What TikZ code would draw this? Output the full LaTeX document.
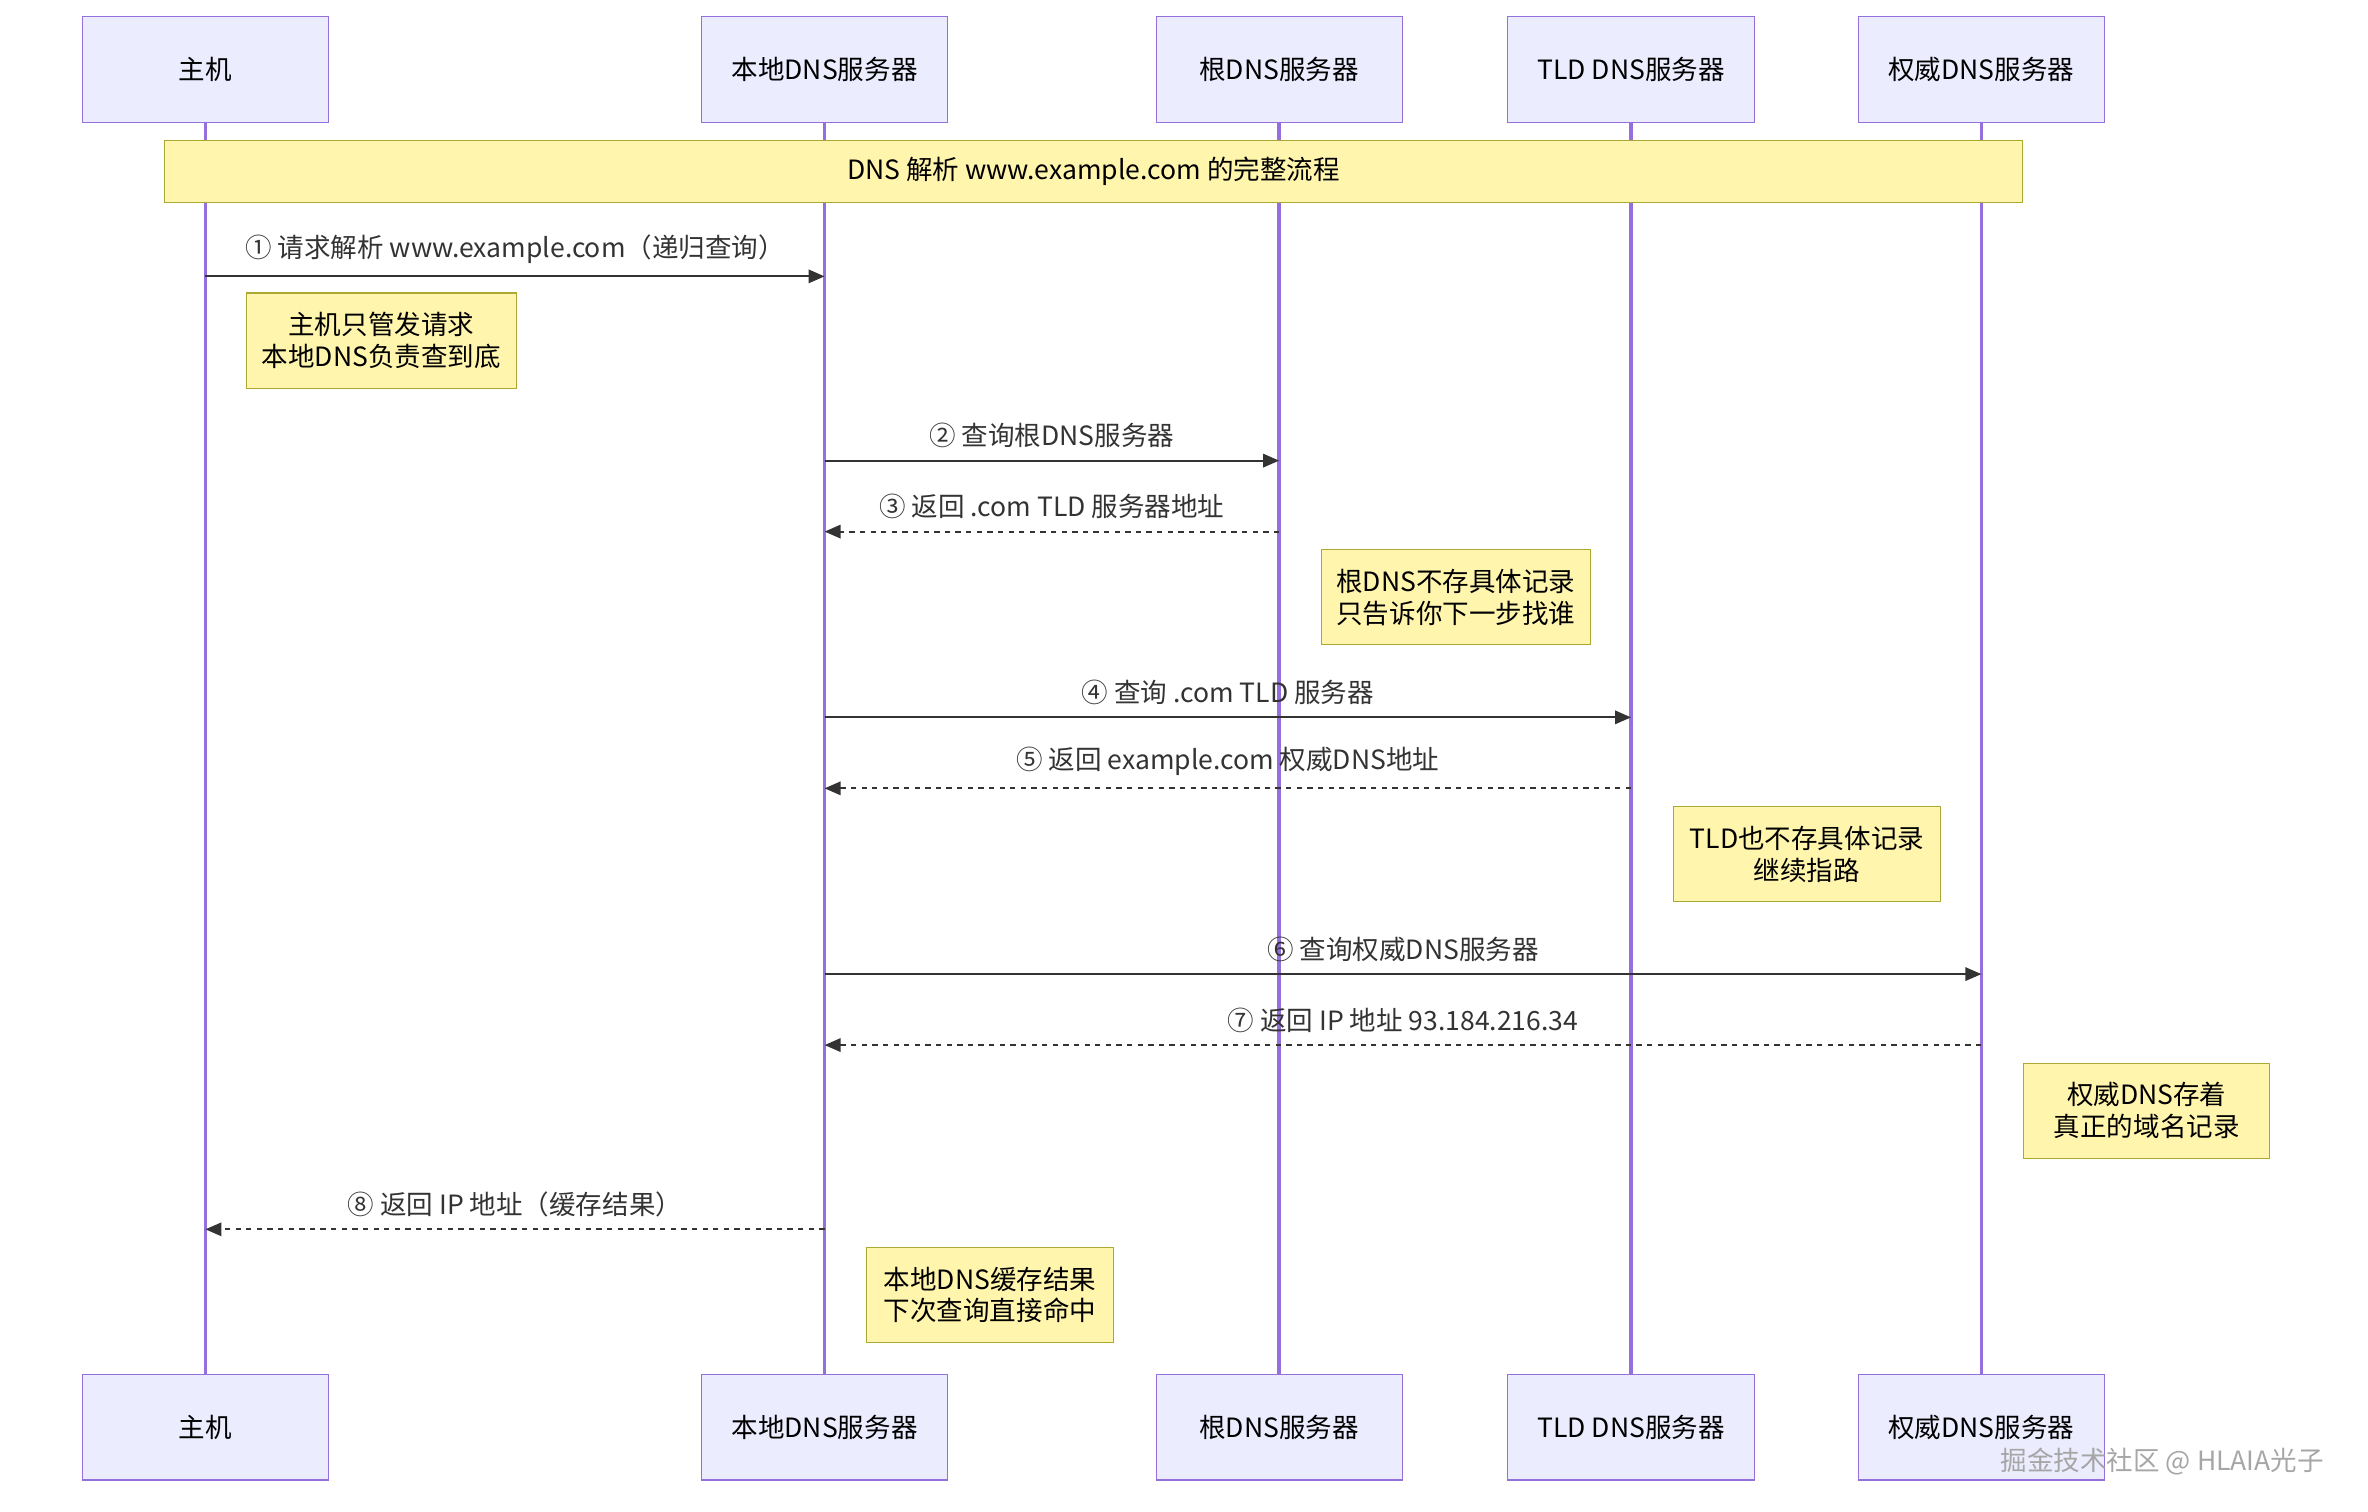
\documentclass[tikz,border=0pt]{standalone}
\usepackage{fontspec}
\setmainfont{Noto Sans CJK SC}
\usetikzlibrary{arrows.meta}
\definecolor{actfill}{HTML}{ECECFF}
\definecolor{actline}{HTML}{9370DB}
\definecolor{notefill}{HTML}{FFF5AD}
\definecolor{noteline}{HTML}{AAAA33}
\definecolor{txt}{HTML}{333333}
\tikzset{
  actor/.style={draw=actline,fill=actfill,minimum width=163*0.02cm,minimum height=70*0.02cm,text=black},
  note/.style={draw=noteline,fill=notefill,align=center,text=black,inner sep=0pt,font=\fontsize{10}{12}\selectfont},
  life/.style={actline,line width=1.3pt},
  msg/.style={draw=txt,line width=0.8pt,-{Triangle[length=6pt,width=5pt]}},
  reply/.style={msg,dashed,dash pattern=on 2pt off 2pt},
  lbl/.style={text=txt,font=\fontsize{10}{12}\selectfont}
}
\begin{document}
\begin{tikzpicture}[x=0.02cm,y=-0.02cm,font=\fontsize{10}{12}\selectfont]
            \useasboundingbox (0,0) rectangle (1568,1001);
            % Lifelines
            \foreach \x in {136,546,847,1080,1312}
                \draw[life] (\x,81) -- (\x,910);
            % Actors
            \foreach \n/\x/\t in {H/136/主机,L/546/本地DNS服务器,R/847/根DNS服务器,T/1080/TLD DNS服务器,A/1312/权威DNS服务器}{
                \node[actor] (\n top) at (\x,46){\t};
                \node[actor] (\n bot) at (\x,945){\t};
            }
            % Banner
            \node[note,minimum width=1230*0.02cm,minimum height=41*0.02cm] (banner) at (724,113.5){DNS 解析 www.example.com 的完整流程};
            % Message points
            \coordinate (H1) at (136,183); \coordinate (L1) at (546,183);
            \coordinate (L2) at (546,305); \coordinate (R2) at (847,305);
            \coordinate (R3) at (847,352); \coordinate (L3) at (546,352);
            \coordinate (L4) at (546,475); \coordinate (T4) at (1080,475);
            \coordinate (T5) at (1080,522); \coordinate (L5) at (546,522);
            \coordinate (L6) at (546,645); \coordinate (A6) at (1312,645);
            \coordinate (A7) at (1312,692); \coordinate (L7) at (546,692);
            \coordinate (L8) at (546,814); \coordinate (H8) at (136,814);
            % Messages
            \draw[msg] (H1) -- node[lbl,above=1pt]{① 请求解析 www.example.com（递归查询）} (L1);
            \draw[msg] (L2) -- node[lbl,above=1pt]{② 查询根DNS服务器} (R2);
            \draw[reply] (R3) -- node[lbl,above=1pt]{③ 返回 .com TLD 服务器地址} (L3);
            \draw[msg] (L4) -- node[lbl,above=1pt]{④ 查询 .com TLD 服务器} (T4);
            \draw[reply] (T5) -- node[lbl,above=1pt]{⑤ 返回 example.com 权威DNS地址} (L5);
            \draw[msg] (L6) -- node[lbl,above=1pt]{⑥ 查询权威DNS服务器} (A6);
            \draw[reply] (A7) -- node[lbl,above=1pt]{⑦ 返回 IP 地址 93.184.216.34} (L7);
            \draw[reply] (L8) -- node[lbl,above=1pt]{⑧ 返回 IP 地址（缓存结果）} (H8);
            % Notes
            \node[note,minimum width=179*0.02cm,minimum height=63*0.02cm] (n1) at (252.5,225.5){主机只管发请求\\本地DNS负责查到底};
            \node[note,minimum width=178*0.02cm,minimum height=63*0.02cm] (n2) at (964,395.5){根DNS不存具体记录\\只告诉你下一步找谁};
            \node[note,minimum width=177*0.02cm,minimum height=63*0.02cm] (n3) at (1196.5,565.5){TLD也不存具体记录\\继续指路};
            \node[note,minimum width=163*0.02cm,minimum height=63*0.02cm] (n4) at (1421.5,735.5){权威DNS存着\\真正的域名记录};
            \node[note,minimum width=163*0.02cm,minimum height=63*0.02cm] (n5) at (655.5,857.5){本地DNS缓存结果\\下次查询直接命中};
            % Watermark
            \node[text=gray!70,anchor=east,font=\fontsize{10}{12}\selectfont] (wm) at (1545,968){掘金技术社区 @ HLAIA光子};
        \end{tikzpicture}
\end{document}
